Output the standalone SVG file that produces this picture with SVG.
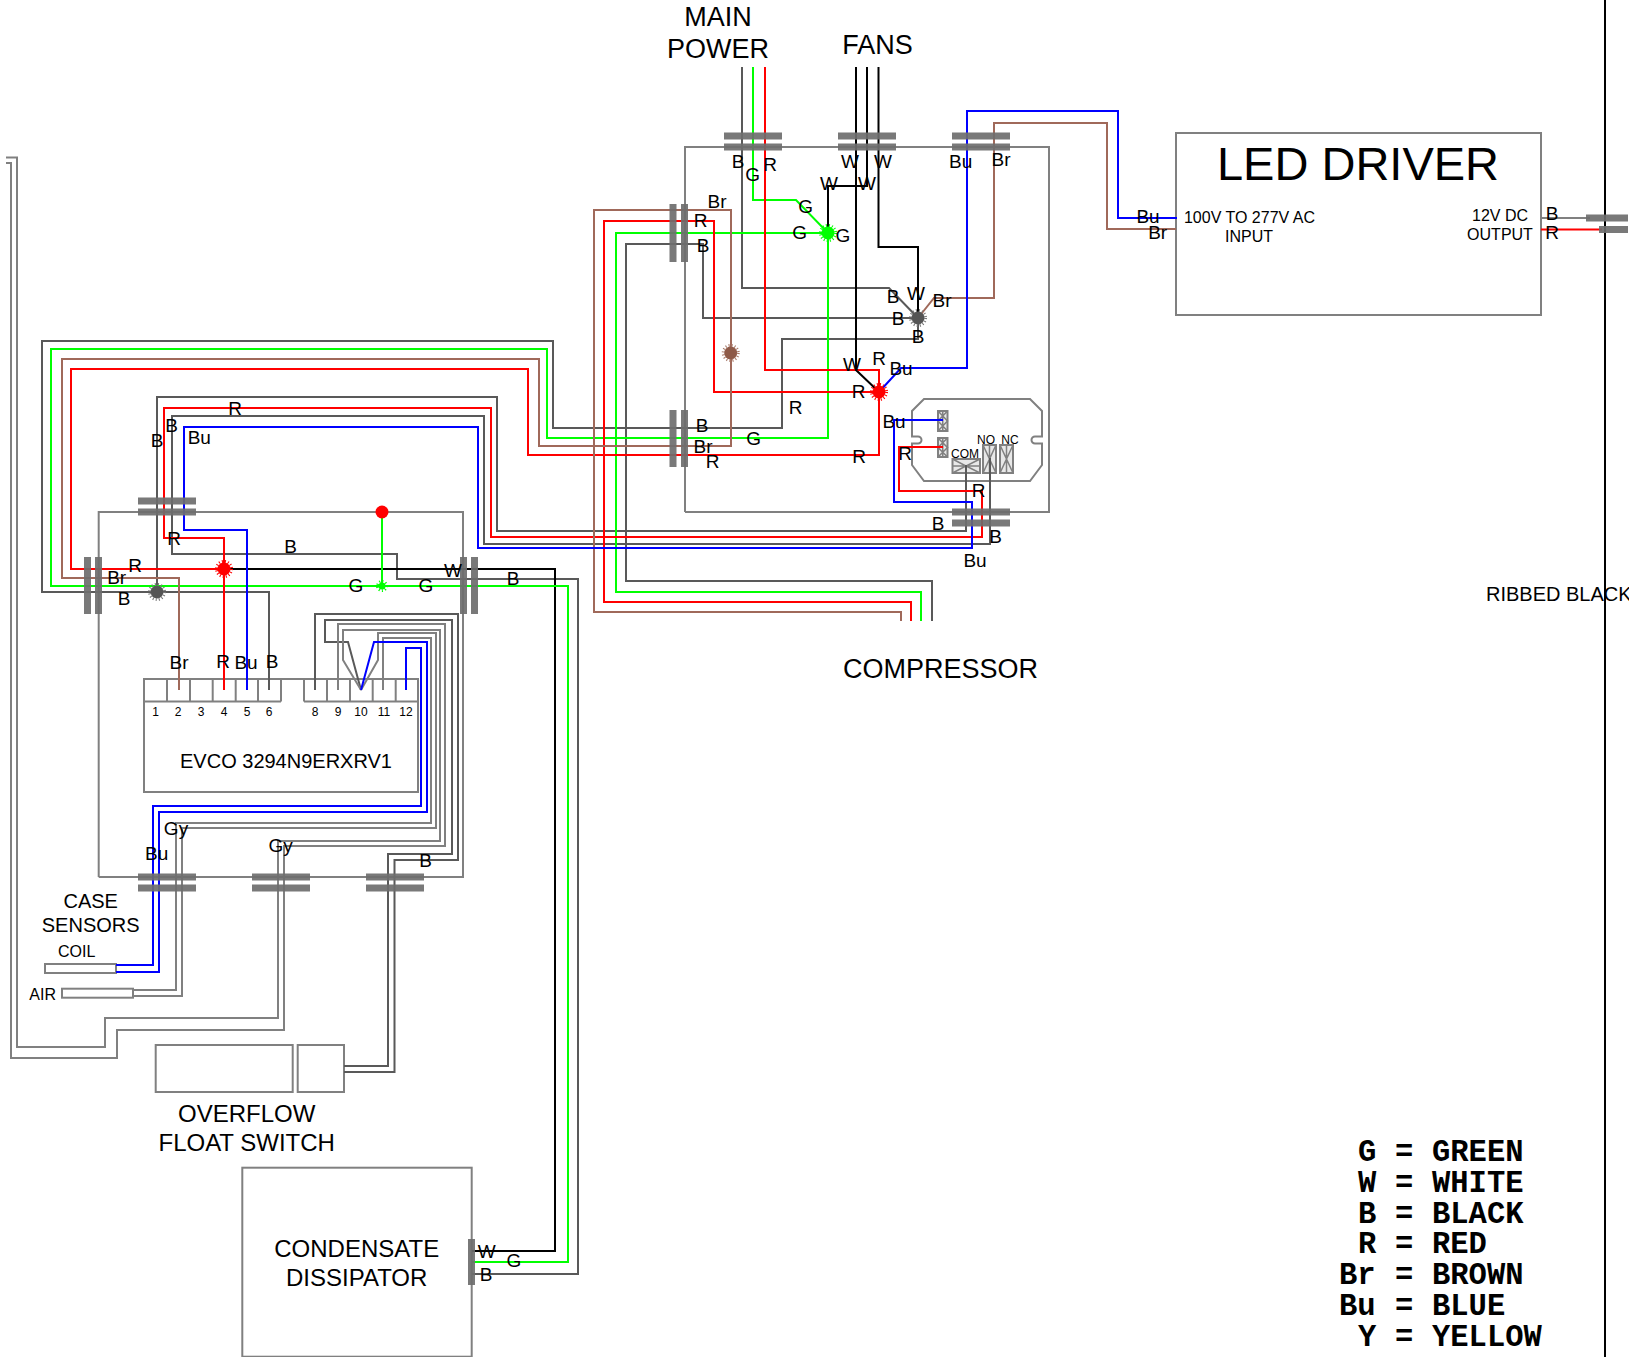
<svg xmlns="http://www.w3.org/2000/svg" width="1646" height="1357" viewBox="0 0 1646 1357">
<style>
text{font-family:"Liberation Sans",Arial,sans-serif;fill:#000;text-anchor:middle}
.l{font-size:19px}
.s{font-size:16px}
.m{font-size:20px}
.t{font-size:24px}
.h{font-size:27px}
.leg{font-family:"Liberation Mono","Courier New",monospace;font-weight:bold;font-size:30.500px;text-anchor:start}
.w{fill:none;stroke-width:2;stroke-linejoin:miter}
.dk{stroke:#595959}.gy{stroke:#808080}.bk{stroke:#000}.gn{stroke:#00ff00}.rd{stroke:#ff0000}.bn{stroke:#a0695a}.bl{stroke:#0000ff}
.box{fill:none;stroke:#808080;stroke-width:2}
.bar{fill:#6e6e6e;opacity:.92}
.term{fill:#e8e8e8;stroke:#808080;stroke-width:2}
.x{fill:none;stroke:#808080;stroke-width:1.500}
.spk{fill:none;stroke-width:3;stroke-dasharray:1 2}
</style>
<defs>
<clipPath id="cut"><rect x="0" y="0" width="1629" height="1357"/></clipPath>
</defs>

<g id="panel-upper"><path class="box" d="M685,512V147H1049V512H685"/></g>
<g id="panel-lower"><path class="box" d="M98.700,877V512H463V877H98.700"/></g>

<g id="led-driver">
<rect class="box" x="1176" y="133" width="365" height="182"/>
<text x="1358" y="180" style="font-size:47px">LED DRIVER</text>
<text x="1249.500" y="223" class="s">100V TO 277V AC</text>
<text x="1249" y="242" class="s">INPUT</text>
<text x="1500" y="221" class="s">12V DC</text>
<text x="1500" y="240" class="s">OUTPUT</text>
</g>

<g id="relay">
<path class="box" d="M924,399H1030L1042,411V436.500H1035A3.500,3.500 0 0 0 1035,443.500H1042V465L1030,481H924L912,465V443.500H918A3.500,3.500 0 0 0 918,436.500H912V411Z"/>
<rect class="term" x="938" y="411" width="9.500" height="20"/>
<path class="x" d="M938,411L947.500,421L938,431M947.500,411L938,421L947.500,431M942.750,411V431"/>
<rect class="term" x="938" y="438" width="9.500" height="19"/>
<path class="x" d="M938,438L947.500,447.500L938,457M947.500,438L938,447.500L947.500,457M942.750,438V457"/>
<rect class="term" x="952.500" y="459" width="27.500" height="14"/>
<path class="x" d="M952.500,459L966,466L952.500,473M980,459L966,466L980,473M952.500,466H980"/>
<rect class="term" x="983" y="445" width="13" height="28"/>
<path class="x" d="M983,445L989.500,459L983,473M996,445L989.500,459L996,473M989.500,445V473"/>
<rect class="term" x="1000" y="445" width="13" height="28"/>
<path class="x" d="M1000,445L1006.500,459L1000,473M1013,445L1006.500,459L1013,473M1006.500,445V473"/>
<text x="965" y="458" style="font-size:12px">COM</text>
<text x="986" y="444" style="font-size:12px">NO</text>
<text x="1010" y="444" style="font-size:12px">NC</text>
</g>

<g id="evco">
<path class="box" d="M144,679H418V792H144ZM144,701.500H281M304,701.500H418M167,679V701.500M190,679V701.500M212.700,679V701.500M235.700,679V701.500M258,679V701.500M281,679V701.500M304,679V701.500M327,679V701.500M350,679V701.500M372.700,679V701.500M395.700,679V701.500"/>
<text x="155.500" y="716" style="font-size:12px">1</text>
<text x="178" y="716" style="font-size:12px">2</text>
<text x="201" y="716" style="font-size:12px">3</text>
<text x="224" y="716" style="font-size:12px">4</text>
<text x="247" y="716" style="font-size:12px">5</text>
<text x="269" y="716" style="font-size:12px">6</text>
<text x="315" y="716" style="font-size:12px">8</text>
<text x="338" y="716" style="font-size:12px">9</text>
<text x="361" y="716" style="font-size:12px">10</text>
<text x="384" y="716" style="font-size:12px">11</text>
<text x="406" y="716" style="font-size:12px">12</text>
<text x="286" y="768" style="font-size:20px">EVCO 3294N9ERXRV1</text>
</g>

<g id="coil-sensor"><rect class="box" x="45" y="964" width="71" height="9"/><text x="76.700" y="957" class="s">COIL</text></g>
<g id="air-sensor"><rect class="box" x="62" y="988.700" width="71" height="9"/><text x="42.700" y="1000" class="s">AIR</text></g>
<g id="case-sensors-label"><text x="90.700" y="907.700" class="m">CASE</text><text x="90.700" y="931.700" class="m">SENSORS</text></g>

<g id="float-switch">
<rect class="box" x="155.700" y="1045" width="137" height="47"/>
<rect class="box" x="297.700" y="1045" width="46.300" height="47"/>
<text x="246.700" y="1122" class="t">OVERFLOW</text>
<text x="246.700" y="1150.500" class="t">FLOAT SWITCH</text>
</g>

<g id="condensate-dissipator">
<rect class="box" x="242.300" y="1167.700" width="229.400" height="189"/>
<text x="356.700" y="1256.700" class="t">CONDENSATE</text>
<text x="356.700" y="1286" class="t">DISSIPATOR</text>
</g>

<g id="connectors">
<path class="w dk" d="M742,67V288H889L918,318"/>
<path class="w dk" d="M932,621V581H626V244H703V318H918"/>
<path class="w dk" d="M918,318V339H782V428H553V341H42V592H269V690"/>
<path class="w dk" d="M157,592V397H497V531H966V465"/>
<path class="w dk" d="M990,458V544H484V416H172V554H397V579H578V1274H472"/>
<path class="w dk" d="M315,690V614H458V860H394.500V1072H344"/>
<path class="w dk" d="M361,690L348,642H325V620H452V854H388V1066H344"/>
<path class="w gy" d="M338,690V624H445V846H284V1030H117V1058H11V163H6"/>
<path class="w gy" d="M361,690L343,660V630H440V841H278V1018H105V1047H17V157.500H6"/>
<path class="w gy" d="M361,690L378,660V633H436V828H182V996H133"/>
<path class="w gy" d="M383,690V638H431V823H176V990H133"/>
<path class="w bk" d="M856,67V370L879,392"/>
<path class="w bk" d="M867,67V186H828V233"/>
<path class="w bk" d="M878.500,67V247H918V318"/>
<path class="w bk" d="M224,569H555V1251H472"/>
<path class="w gn" d="M753,67V200H796L828,233"/>
<path class="w gn" d="M921,621V592H616V233H828V438H547V349H51V586H568V1262H472"/>
<path class="w gn" d="M382,512V586"/>
<path class="w rd" d="M765,67V370H879V455H528V369H71V569H224"/>
<path class="w rd" d="M879,392H714V221H604V602H911V621"/>
<path class="w rd" d="M224,690V538H164V408H491V537H982V491H899V447H943"/>
<path class="w bn" d="M918,318L934,298H994V123H1107V229H1176"/>
<path class="w bn" d="M179,690V578H62V359H539V446H731V210H594V612H901V621"/>
<path class="w bl" d="M879,392L901,368H967V111H1118V218H1177"/>
<path class="w bl" d="M247,690V530H184V427H478V548H972V502H894V420H943"/>
<path class="w bl" d="M361,690L374,642H427V812H159V972H116"/>
<path class="w bl" d="M406,690V648H421V806H153V965H116"/>
<path class="w gy" d="M1541,218H1590"/>
<path class="w rd" d="M1541,229.500H1602"/>
<path class="w bk" d="M1605,0V1357"/>
</g>

<g id="terminal-bars">
<rect class="bar" x="724" y="132.500" width="58" height="7"/><rect class="bar" x="724" y="143.500" width="58" height="7"/>
<rect class="bar" x="838" y="132.500" width="58" height="7"/><rect class="bar" x="838" y="143.500" width="58" height="7"/>
<rect class="bar" x="952" y="132.500" width="58" height="7"/><rect class="bar" x="952" y="143.500" width="58" height="7"/>
<rect class="bar" x="952" y="508.500" width="58" height="7"/><rect class="bar" x="952" y="519.500" width="58" height="7"/>
<rect class="bar" x="669.500" y="204" width="7" height="58"/><rect class="bar" x="681" y="204" width="7" height="58"/>
<rect class="bar" x="669.500" y="410" width="7" height="57"/><rect class="bar" x="681" y="410" width="7" height="57"/>
<rect class="bar" x="138" y="497.500" width="58" height="7"/><rect class="bar" x="138" y="508.500" width="58" height="7"/>
<rect class="bar" x="84" y="557" width="7" height="57"/><rect class="bar" x="95" y="557" width="7" height="57"/>
<rect class="bar" x="460" y="557" width="7" height="57"/><rect class="bar" x="471" y="557" width="7" height="57"/>
<rect class="bar" x="138" y="873.500" width="58" height="7"/><rect class="bar" x="138" y="884.500" width="58" height="7"/>
<rect class="bar" x="252" y="873.500" width="58" height="7"/><rect class="bar" x="252" y="884.500" width="58" height="7"/>
<rect class="bar" x="366" y="873.500" width="58" height="7"/><rect class="bar" x="366" y="884.500" width="58" height="7"/>
<rect class="bar" x="1586" y="214.500" width="42" height="7"/><rect class="bar" x="1599" y="226" width="29" height="7"/>
<rect class="bar" x="468" y="1239" width="7" height="46"/>
</g>

<g id="junction-green-top"><circle cx="828" cy="233" r="6.500" fill="#00ff00"/><circle class="spk" cx="828" cy="233" r="7.500" stroke="#00ff00"/></g>
<g id="junction-red-top"><circle cx="879" cy="392" r="6.500" fill="#ff0000"/><circle class="spk" cx="879" cy="392" r="7.500" stroke="#ff0000"/></g>
<g id="junction-black-top"><circle cx="918" cy="318" r="6.500" fill="#555"/><circle class="spk" cx="918" cy="318" r="7.500" stroke="#777"/></g>
<g id="junction-brown"><circle cx="730.700" cy="353" r="6.500" fill="#8e5a48"/><circle class="spk" cx="730.700" cy="353" r="7.500" stroke="#a87a6a"/></g>
<g id="junction-red-left"><circle cx="224" cy="569" r="6.500" fill="#ff0000"/><circle class="spk" cx="224" cy="569" r="7.500" stroke="#ff0000"/></g>
<g id="junction-black-left"><circle cx="157" cy="592" r="6.500" fill="#555"/><circle class="spk" cx="157" cy="592" r="7.500" stroke="#777"/></g>
<g id="junction-green-left"><circle cx="382" cy="586" r="3.500" fill="#00ff00"/><circle class="spk" cx="382" cy="586" r="4.500" stroke="#00ff00"/></g>
<g id="ground-red"><circle cx="382" cy="512" r="6.500" fill="#ff0000"/></g>

<g id="labels">
<text class="h" x="718" y="26">MAIN</text><text class="h" x="718" y="58">POWER</text>
<text class="h" x="877.600" y="54">FANS</text>
<text class="h" x="940.500" y="678">COMPRESSOR</text>
<text x="1486" y="600.500" style="font-size:20px;text-anchor:start" clip-path="url(#cut)">RIBBED BLACK</text>
<text class="l" x="738" y="167.700">B</text><text class="l" x="752.700" y="180.700">G</text><text class="l" x="770" y="170.700">R</text>
<text class="l" x="850" y="167.700">W</text><text class="l" x="883" y="167.700">W</text>
<text class="l" x="960.700" y="167.700">Bu</text><text class="l" x="1001" y="165.700">Br</text>
<text class="l" x="829" y="190">W</text><text class="l" x="867" y="190">W</text>
<text class="l" x="805.700" y="213">G</text><text class="l" x="799.700" y="239">G</text><text class="l" x="843" y="241.700">G</text>
<text class="l" x="717" y="207.700">Br</text><text class="l" x="700.700" y="226.700">R</text><text class="l" x="703" y="251.700">B</text>
<text class="l" x="893" y="302.700">B</text><text class="l" x="916" y="300">W</text><text class="l" x="942" y="306.700">Br</text>
<text class="l" x="898" y="325.300">B</text><text class="l" x="918" y="342.700">B</text>
<text class="l" x="852" y="371">W</text><text class="l" x="879" y="365">R</text><text class="l" x="901" y="375">Bu</text>
<text class="l" x="858.700" y="398">R</text><text class="l" x="795.700" y="414">R</text><text class="l" x="894" y="427.700">Bu</text>
<text class="l" x="702" y="432">B</text><text class="l" x="753.700" y="445">G</text><text class="l" x="703" y="452.700">Br</text>
<text class="l" x="712.700" y="468">R</text><text class="l" x="859" y="463">R</text><text class="l" x="905" y="460">R</text>
<text class="l" x="978.700" y="497.300">R</text><text class="l" x="938" y="530">B</text><text class="l" x="995.700" y="543">B</text><text class="l" x="975" y="566.700">Bu</text>
<text class="l" x="235" y="415">R</text><text class="l" x="171.700" y="432.300">B</text><text class="l" x="157" y="447.300">B</text><text class="l" x="199.300" y="444">Bu</text>
<text class="l" x="174" y="545">R</text><text class="l" x="290.700" y="553">B</text><text class="l" x="135" y="571.700">R</text>
<text class="l" x="116.700" y="584">Br</text><text class="l" x="124" y="605">B</text>
<text class="l" x="179" y="668.500">Br</text><text class="l" x="223" y="667.500">R</text><text class="l" x="246" y="668.500">Bu</text><text class="l" x="272" y="667.500">B</text>
<text class="l" x="176" y="835">Gy</text><text class="l" x="156.700" y="860">Bu</text><text class="l" x="280.700" y="852">Gy</text><text class="l" x="425.700" y="866.700">B</text>
<text class="l" x="356" y="592">G</text><text class="l" x="426" y="592">G</text><text class="l" x="453" y="576.700">W</text><text class="l" x="513" y="585">B</text>
<text class="l" x="486.700" y="1257.700">W</text><text class="l" x="514" y="1267">G</text><text class="l" x="486" y="1280.700">B</text>
<text class="l" x="1148" y="223">Bu</text><text class="l" x="1157.700" y="239">Br</text>
<text class="l" x="1552" y="220">B</text><text class="l" x="1552" y="239">R</text>
</g>

<g id="legend">
<text class="leg" y="1161"><tspan x="1358">G</tspan> <tspan x="1395">=</tspan> <tspan x="1432">GREEN</tspan></text>
<text class="leg" y="1192"><tspan x="1358">W</tspan> <tspan x="1395">=</tspan> <tspan x="1432">WHITE</tspan></text>
<text class="leg" y="1222.500"><tspan x="1358">B</tspan> <tspan x="1395">=</tspan> <tspan x="1432">BLACK</tspan></text>
<text class="leg" y="1253"><tspan x="1358">R</tspan> <tspan x="1395">=</tspan> <tspan x="1432">RED</tspan></text>
<text class="leg" y="1284"><tspan x="1339">Br</tspan> <tspan x="1395">=</tspan> <tspan x="1432">BROWN</tspan></text>
<text class="leg" y="1314.500"><tspan x="1339">Bu</tspan> <tspan x="1395">=</tspan> <tspan x="1432">BLUE</tspan></text>
<text class="leg" y="1345.500"><tspan x="1358">Y</tspan> <tspan x="1395">=</tspan> <tspan x="1432">YELLOW</tspan></text>
</g>
</svg>
